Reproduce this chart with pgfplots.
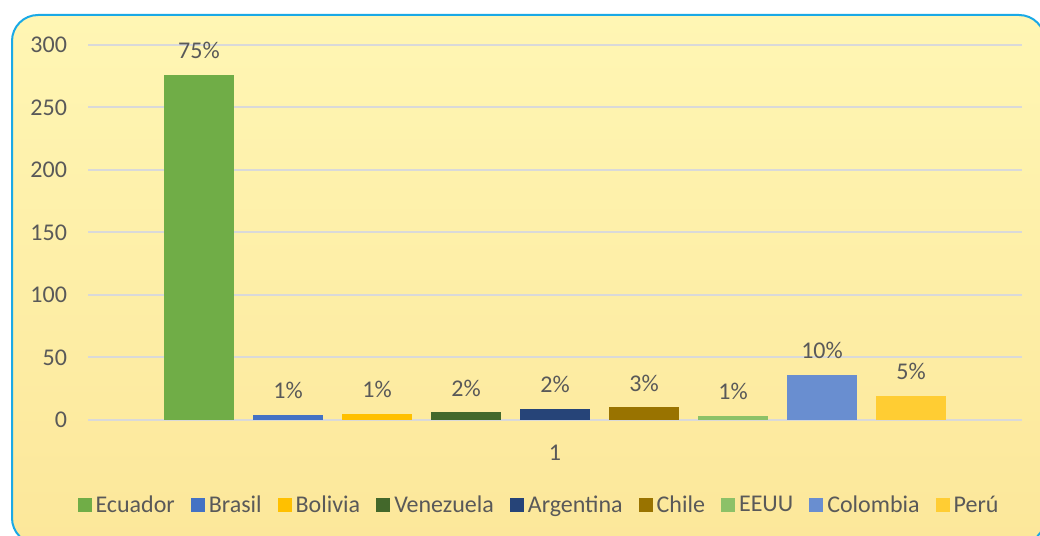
\documentclass[border=0pt]{standalone}
\usepackage{pgfplots}
\pgfplotsset{compat=1.18}
\usepackage{fontspec}
\setmainfont{Carlito}
\definecolor{txt}{HTML}{595959}
\definecolor{grd}{HTML}{D9D9D9}
\definecolor{cEcu}{HTML}{70AD47}
\definecolor{cBra}{HTML}{4472C4}
\definecolor{cBol}{HTML}{FFC000}
\definecolor{cVen}{HTML}{43682B}
\definecolor{cArg}{HTML}{264478}
\definecolor{cChi}{HTML}{997300}
\definecolor{cEEU}{HTML}{8CC168}
\definecolor{cCol}{HTML}{698ED0}
\definecolor{cPer}{HTML}{FFCD33}
\definecolor{bgtop}{HTML}{FFF6B4}
\definecolor{bgmid}{HTML}{FFF29F}
\definecolor{bgbot}{HTML}{FCE79A}
\definecolor{brd}{HTML}{1AA9E6}
\pgfplotsset{sq legend/.style={legend image code/.code={\fill[##1] (0pt,-3.5pt) rectangle (7pt,3.5pt);}}}
\begin{document}
\begin{tikzpicture}
\useasboundingbox (0,0) rectangle (520pt,268pt);
\shadedraw[top color=bgtop, middle color=bgmid, bottom color=bgbot, draw=brd, line width=1pt, rounded corners=13pt]
  (6pt,-4pt) rectangle (522.5pt,260.5pt);
\begin{axis}[
  at={(44pt,58pt)}, anchor=south west,
  scale only axis, width=467pt, height=187.5pt,
  ybar, bar width=35pt,
  xmin=-1.247, xmax=9.247, ymin=0, ymax=300,
  xtick={4}, xticklabels={1},
  ytick={0,50,...,300},
  major tick length=0pt,
  ymajorgrids, major grid style={draw=grd, line width=1pt},
  axis line style={draw=none},
  clip=false,
  font=\fontsize{12}{14}\selectfont,
  /pgf/number format/assume math mode=true,
  tick label style={text=txt},
  yticklabel style={xshift=-7pt},
  xticklabel style={yshift=-9pt},
  point meta=explicit symbolic,
  nodes near coords,
  nodes near coords style={text=txt, yshift=4.5pt},
  legend columns=9,
  legend style={at={(0.484,-0.228)}, anchor=center, draw=none, fill=none,
    text=txt, font=\fontsize{12}{14}\selectfont,
    /tikz/every even column/.append style={column sep=6pt},
    nodes={inner xsep=2pt}},
]
\addplot[fill=cEcu, draw=none, bar shift=0pt, sq legend] coordinates {(0,276) [75\%]};
\addplot[fill=cBra, draw=none, bar shift=0pt, sq legend] coordinates {(1,4) [1\%]};
\addplot[fill=cBol, draw=none, bar shift=0pt, sq legend] coordinates {(2,5) [1\%]};
\addplot[fill=cVen, draw=none, bar shift=0pt, sq legend] coordinates {(3,6) [2\%]};
\addplot[fill=cArg, draw=none, bar shift=0pt, sq legend] coordinates {(4,9) [2\%]};
\addplot[fill=cChi, draw=none, bar shift=0pt, sq legend] coordinates {(5,10) [3\%]};
\addplot[fill=cEEU, draw=none, bar shift=0pt, sq legend] coordinates {(6,3) [1\%]};
\addplot[fill=cCol, draw=none, bar shift=0pt, sq legend] coordinates {(7,36) [10\%]};
\addplot[fill=cPer, draw=none, bar shift=0pt, sq legend] coordinates {(8,19) [5\%]};
\legend{Ecuador,Brasil,Bolivia,Venezuela,Argentina,Chile,EEUU,Colombia,Perú}
\end{axis}
\end{tikzpicture}
\end{document}
